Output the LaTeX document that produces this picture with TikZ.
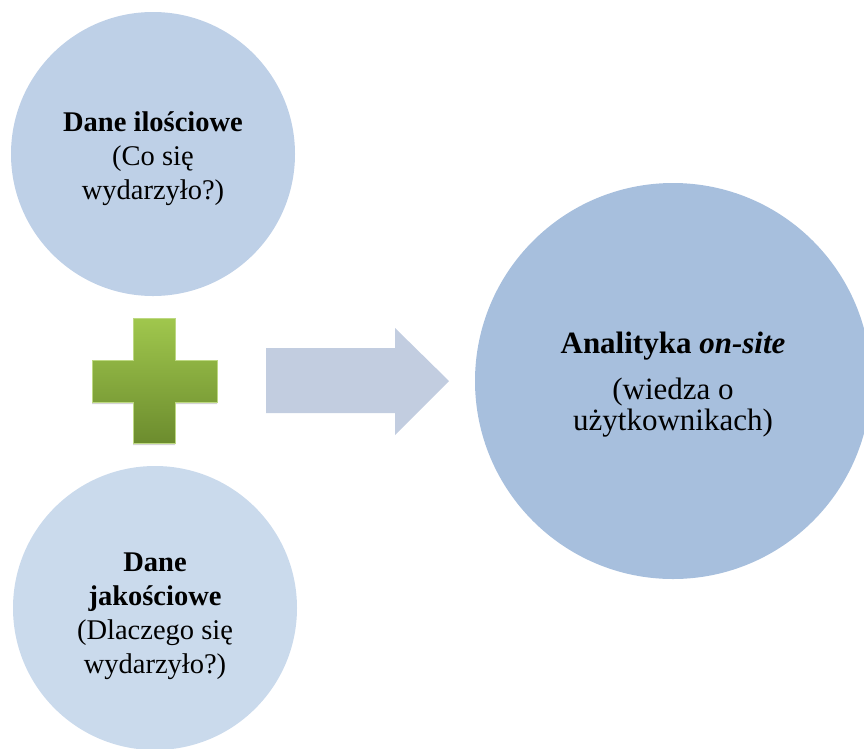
\documentclass[tikz,border=0pt]{standalone}
\usepackage{fontspec}
\setmainfont{Liberation Serif}
\usetikzlibrary{shadows}
\definecolor{kolgora}{HTML}{BED0E7}
\definecolor{koldol}{HTML}{CADAEC}
\definecolor{kolprawo}{HTML}{A7BFDD}
\definecolor{kolstrzalka}{HTML}{C2CDE0}
\definecolor{zielengora}{HTML}{A0C74D}
\definecolor{zielendol}{HTML}{6C8C2E}
\begin{document}
\begin{tikzpicture}[x=1pt, y=-1pt,
    kolo/.style={circle, inner sep=0pt},
    napis/.style={align=center, font=\fontsize{28.5}{34}\selectfont},
    napisduzy/.style={align=center, font=\fontsize{31}{31}\selectfont}]
    \useasboundingbox (0,0) rectangle (864,748);
    % koła
    \node[kolo, fill=kolgora, minimum size=284pt] (ilosc) at (153,154) {};
    \node[kolo, fill=koldol, minimum size=284pt] (jakosc) at (155,608) {};
    \node[kolo, fill=kolprawo, minimum size=396pt] (analityka) at (673,381) {};
    \node[napis] (ilosctxt) at ([yshift=-5pt]ilosc.center) {\textbf{Dane ilościowe}\\(Co się\\wydarzyło?)};
    \node[napis] (jakosctxt) at ([yshift=-8pt]jakosc.center) {\textbf{Dane}\\\textbf{jakościowe}\\(Dlaczego się\\wydarzyło?)};
    \node[napisduzy] (analitykatxt) at ([yshift=-4pt]analityka.center) {\textbf{Analityka \textit{on-site}}\\[15pt](wiedza o\\użytkownikach)};
    % plus
    \shade[top color=zielengora, bottom color=zielendol, draw=zielengora!70!white, line width=0.6pt,
        drop shadow={opacity=0.35, shadow xshift=0pt, shadow yshift=-2pt}]
        (133,318) -- (175,318) -- (175,360) -- (217,360) -- (217,402) -- (175,402)
        -- (175,443) -- (133,443) -- (133,402) -- (92,402) -- (92,360) -- (133,360) -- cycle;
    % strzałka
    \fill[kolstrzalka] (266,348) -- (395,348) -- (395,328) -- (449,381)
        -- (395,435) -- (395,413) -- (266,413) -- cycle;
\end{tikzpicture}
\end{document}
